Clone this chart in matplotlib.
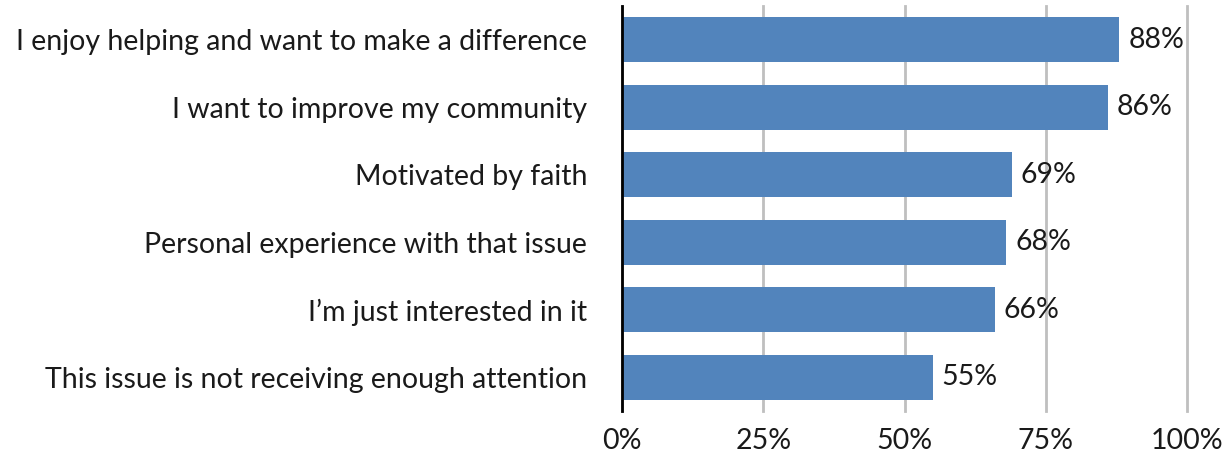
import matplotlib
matplotlib.use('Agg')
import matplotlib.pyplot as plt

categories = [
    'I enjoy helping and want to make a difference',
    'I want to improve my community',
    'Motivated by faith',
    'Personal experience with that issue',
    'I\u2019m just interested in it',
    'This issue is not receiving enough attention',
]
values = [88, 86, 69, 68, 66, 55]
xticks = [0, 25, 50, 75, 100]

plt.rcParams['font.family'] = ['Lato', 'DejaVu Sans']

fig = plt.figure(figsize=(12.3, 4.58), dpi=100)
ax = fig.add_axes([622 / 1230, 1 - 411 / 458, (1187 - 622) / 1230, 405 / 458])

ypos = list(range(len(categories)))
ax.barh(ypos, values, height=0.67, color='#5284BC', zorder=3)
for y, v in zip(ypos, values):
    ax.text(v + 1.6, y, f'{v}%', va='center', ha='left', fontsize=20.5, color='#1a1a1a')

ax.set_ylim(len(categories) - 0.5, -0.5)
ax.set_xlim(0, 100)
ax.set_yticks(ypos)
ax.set_yticklabels(categories, fontsize=20.5, color='#1a1a1a')
ax.set_xticks(xticks)
ax.set_xticklabels([f'{t}%' for t in xticks], fontsize=20.5, color='#1a1a1a')
ax.tick_params(axis='both', length=0)
ax.tick_params(axis='y', pad=25)
ax.tick_params(axis='x', pad=12)

ax.grid(axis='x', color='#BFBFBF', linewidth=2, zorder=0)
for line in ax.get_xgridlines():
    line.set_clip_on(False)
for s in ['top', 'right', 'bottom']:
    ax.spines[s].set_visible(False)
ax.spines['left'].set_color('black')
ax.spines['left'].set_linewidth(2)
ax.spines['left'].set_zorder(4)

fig.savefig('out.png', dpi=100)
